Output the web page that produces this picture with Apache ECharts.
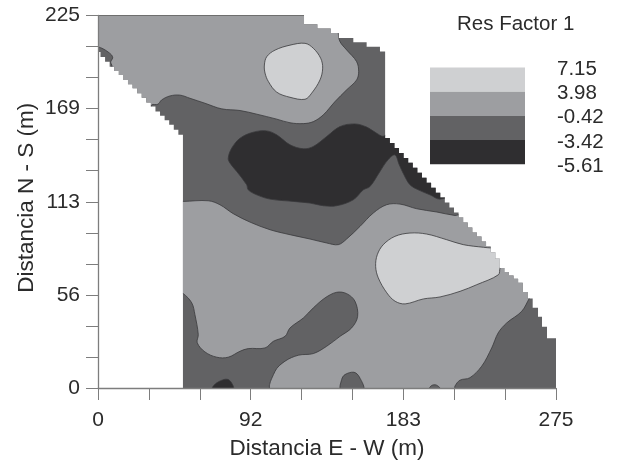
<!DOCTYPE html>
<html><head><meta charset="utf-8">
<style>html,body{margin:0;padding:0;background:#fff}#c{width:618px;height:465px}</style>
<script src="https://cdn.jsdelivr.net/npm/echarts@6/dist/echarts.min.js"></script>
</head><body><div id="c"></div>
<script>
const xTickLabels = ['0','','','92','','','183','','','275'];
const yTickLabels = ['0','','','56','','','113','','','169','','','225'];
const legendLabels = ['7.15','3.98','-0.42','-3.42','-5.61'];
const levelColors = ['#cfd0d2','#9d9ea1','#626264','#2f2e30'];

// Outline of the surveyed area (metres), walked as horizontal then vertical steps
const siteOutline = [[0,225],[123.7,219.7],[131.7,217.1],[139.7,214.4],[144.5,211.4],[153.3,208.9],[161.3,206.1],[169.3,203.2],[172.4,151],
[175.25,148],[178,145],[180.75,142],[183.5,139],[186.25,136],[189,133],[191.75,130],[194.5,127],[197.25,124],[200,121],[202.75,118],[205.5,115],[208.25,112],[211,109],[213.75,106],[216.5,103],[219.25,100],[222,97],[224.75,94],[227.5,91.5],[230.25,88.5],[233,85.5],[235.75,82],[238.5,78],[241.25,72.5],[244,70],[246.75,68],[249.5,66],[252.25,63.5],[255,58],[258,54],[261,48.5],[264.2,43],[266.6,37],[269.6,30],[275,0],
[51,153],[48.25,156],[45.5,159],[42.75,161.75],[40,164.5],[37.25,167],[34.5,170],[31.75,172.5],[29,175.25],[26.25,178],[23.5,181],[20.75,183.5],[18,186],[15.25,189],[12.5,191.5],[9.75,194],[7,197],[4.25,200],[1.5,203],[0,203]];

// Contour regions. Extra vertices outside the outline get clipped.
const upperBand = [[-5,206],[0,206],[3,204.9],[6,203],[8.1,201.2],[8.8,199.4],[7.6,196.9],[8.4,194.5],[8,190],[31,168],[32.2,171],[36,171.4],[38.2,174],[43.2,176.4],[49.2,176.9],[55.2,175],[64.2,172],[74.3,168.6],[85.3,167.6],[95.3,165.4],[107.3,162.4],[115.3,160.2],[123.3,159.7],[129.3,160.9],[135.3,165],[142.3,173],[149.3,180.1],[155.3,186.1],[156.5,191.1],[155.3,197.1],[149.3,204.2],[145.3,209.2],[144.3,214.3],[144,230],[-5,230]];
const lowerBand = [[49,112.7],[51.2,112.7],[66.2,113.1],[73.2,110.7],[81.2,105.3],[91.3,100.2],[103.3,95.6],[115.3,92.6],[127.3,90],[137.3,87.6],[144.3,86.6],[149.3,90],[157.3,97.6],[165.3,105.7],[173.3,110.7],[181.3,111.1],[191.3,108.3],[203.4,106.3],[214.4,104.2],[218,104.5],[263,60],[259.2,54.5],[254.4,46.3],[245.4,39.3],[240.3,33.3],[236.4,24.2],[230.4,13.2],[223.3,6.2],[217.3,4.7],[214.3,1.1],[213.9,-1],[104.3,-1],[106.3,10.1],[112.3,16.2],[120.3,19.8],[129.3,20.8],[137.3,25.2],[145.3,31.2],[152.3,36.3],[155.9,43.3],[154.3,52.4],[149.3,57],[143.3,57.8],[136.3,54.4],[129.3,48.4],[123.3,42.3],[115.3,36.3],[112.3,31.2],[105.3,28.2],[100.3,24.2],[90.2,23.8],[85.3,22.2],[78.2,18.6],[71.3,18.6],[64.2,21.8],[59.6,27.3],[60.2,32.3],[58.2,44.3],[56.3,51.4],[51.2,57],[49,57]];
const highNorth = [[99.9,195.1],[101.3,200.1],[106.3,204.1],[115.3,207.1],[124.3,208.2],[129.3,205.2],[133.7,199.2],[134.9,193.2],[133.3,186.1],[128.3,178.1],[124.3,174.4],[115.3,175.6],[107.3,178.7],[102.3,185.1],[100.3,190.2]];
const highEast = [[166.7,73.5],[167.7,80.5],[171.3,86.6],[178.3,91.6],[187.3,93.6],[197.3,93],[209.3,89.6],[219.3,86.6],[231.4,85],[236,84.6],[246,84],[242.5,74],[241.4,72.5],[240.4,68.4],[227.4,62.4],[217.4,58.4],[205.4,55],[195.4,53.8],[184.4,50.8],[178.4,52.4],[173.4,57.5],[168.3,66.5]];
const lowCentre = [[178.3,140.8],[174.1,137.8],[169.3,130.8],[163.3,121.7],[159.3,119.7],[153.3,113.7],[143.3,110.1],[135.3,110.1],[127.3,111.7],[117.3,112.7],[103.3,114.1],[95.3,116.7],[90.2,119.7],[89.3,122.7],[83.3,130.8],[79.3,135.8],[78.2,138.9],[80.3,144.9],[85.3,150.9],[93.2,154.5],[101.3,155.3],[107.3,152.9],[115.3,146.9],[123.3,144.5],[129.3,145.9],[137.3,151.9],[145.3,157.9],[154.3,159.5],[161.3,157.6],[167.3,153.9],[171.1,152],[174,153],[212,118],[205.4,114.1],[199.3,116.7],[192.3,119.7],[187.3,122.8],[183.7,128.8],[180.9,134.8]];
const lowSouth = [[68.6,-1],[71.3,3.1],[78.2,5.1],[81.2,-1]];
const midSouthA = [[145.9,-1],[146.3,5.1],[148.3,8.1],[153.7,9.5],[156.9,6.7],[159.3,-1]];
const midSouthB = [[198.9,-1],[200.3,1.5],[203.3,1.7],[205.8,-1]];
const topEdge = [[0,225],[123.7,225]];

const regions = [
  {pts: upperBand, level: 1}, {pts: lowerBand, level: 1},
  {pts: highNorth, level: 0}, {pts: highEast, level: 0},
  {pts: lowCentre, level: 3}, {pts: lowSouth, level: 3},
  {pts: midSouthA, level: 2}, {pts: midSouthB, level: 2}
];

function outlineVertices() {
  const out = [siteOutline[0]];
  for (let i = 1; i < siteOutline.length; i++) {
    out.push([siteOutline[i][0], siteOutline[i-1][1]]);
    out.push(siteOutline[i]);
  }
  return out;
}
const site = outlineVertices();
const XN = xTickLabels.length - 1, YN = yTickLabels.length - 1;
const tickColor = '#7d7d7d', textColor = '#2b2b2b';

const series = [{
  type: 'custom', coordinateSystem: 'cartesian2d', data: site, silent: true, z: 2,
  renderItem(p, api) {
    if (p.dataIndex !== 0) return null;
    return {type: 'polygon', shape: {points: site.map(v => api.coord(v))}, style: {fill: levelColors[2]}};
  }
}];
regions.forEach((r, k) => series.push({
  type: 'custom', coordinateSystem: 'cartesian2d', data: r.pts, silent: true, z: 3 + k,
  renderItem(p, api) {
    if (p.dataIndex !== 0) return null;
    return {
      type: 'group',
      clipPath: {type: 'polygon', shape: {points: site.map(v => api.coord(v))}},
      children: [{type: 'polygon', shape: {points: r.pts.map(v => api.coord(v)), smooth: 0.35},
        style: {fill: levelColors[r.level], stroke: '#3a3a3c', lineWidth: 0.8}}]
    };
  }
}));
series.push({type: 'line', data: topEdge, symbol: 'none', silent: true, z: 20, lineStyle: {color: '#6e6e6e', width: 1}});

const swatchX = 430, swatchY = 67.5, swatchW = 95, swatchH = 24.2;
const graphic = [
  {type: 'text', x: 457, y: 24, style: {text: 'Res Factor 1', font: '20.5px "Liberation Sans", Arial, sans-serif', fill: textColor, textVerticalAlign: 'middle'}}
];
levelColors.forEach((c, i) => graphic.push({type: 'rect', shape: {x: swatchX, y: swatchY + i * swatchH, width: swatchW, height: swatchH}, style: {fill: c}}));
legendLabels.forEach((t, i) => graphic.push({type: 'text', x: 557, y: 69 + i * 24.3, style: {text: t, font: '20.5px "Liberation Sans", Arial, sans-serif', fill: textColor, textVerticalAlign: 'middle'}}));

const chart = echarts.init(document.getElementById('c'), null, {renderer: 'canvas'});
chart.setOption({
  animation: false, backgroundColor: '#fff',
  grid: {left: 98, top: 15.5, width: 458, height: 373},
  xAxis: {type: 'value', min: 0, max: 275, interval: 275 / XN, z: 30,
    name: 'Distancia E - W (m)', nameLocation: 'middle', nameGap: 49,
    nameTextStyle: {fontFamily: 'Liberation Sans', fontSize: 22.5, color: textColor},
    splitLine: {show: false},
    axisLine: {onZero: false, lineStyle: {color: tickColor, width: 1.3}},
    axisTick: {length: 12, lineStyle: {color: tickColor, width: 1}},
    axisLabel: {margin: 22, fontFamily: 'Liberation Sans', fontSize: 21, color: textColor, showMaxLabel: true, showMinLabel: true, hideOverlap: false,
      formatter: v => xTickLabels[Math.round(v / (275 / XN))] ?? ''}},
  yAxis: {type: 'value', min: 0, max: 225, interval: 225 / YN, z: 30,
    name: 'Distancia N - S (m)', nameLocation: 'middle', nameGap: 60, nameMoveOverlap: false,
    nameTextStyle: {fontFamily: 'Liberation Sans', fontSize: 22.5, color: textColor, padding: [0, 0, 0, 8]},
    splitLine: {show: false},
    axisLine: {onZero: false, lineStyle: {color: tickColor, width: 1.3}},
    axisTick: {length: 12, lineStyle: {color: tickColor, width: 1}},
    axisLabel: {margin: 18, fontFamily: 'Liberation Sans', fontSize: 21, color: textColor, showMaxLabel: true, showMinLabel: true, hideOverlap: false,
      formatter: v => yTickLabels[Math.round(v / (225 / YN))] ?? ''}},
  series, graphic
});
</script></body></html>
